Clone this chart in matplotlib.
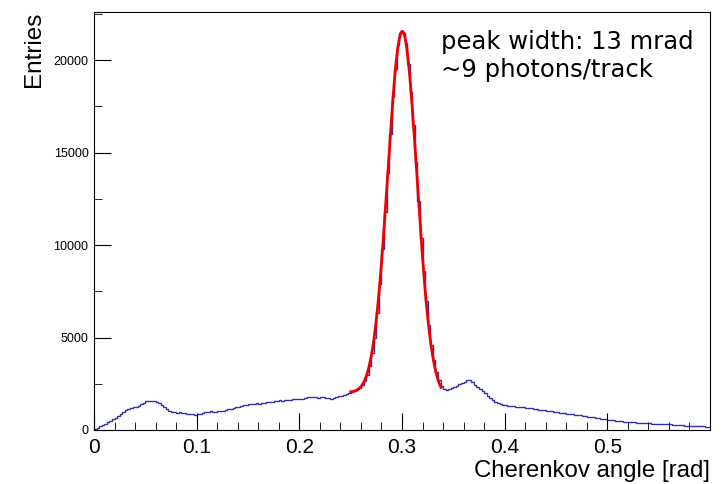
import numpy as np
import matplotlib
matplotlib.use("Agg")
import matplotlib.pyplot as plt
from matplotlib.ticker import MultipleLocator

# histogram: 240 bins of 0.0025 rad from 0 to 0.6
x_lo = 0.0
bin_width = 0.0025
counts = [
    40, 110, 190, 270, 340, 420, 500, 580, 660, 760,                 # 0.000
    880, 960, 1060, 1150, 1200, 1230, 1250, 1320, 1410, 1480,        # 0.025
    1580, 1590, 1570, 1580, 1540, 1470, 1360, 1240, 1120, 1030,      # 0.050
    980, 960, 940, 950, 910, 900, 880, 870, 850, 830,                # 0.075
    860, 880, 920, 950, 990, 1000, 960, 990, 1030, 1020,             # 0.100
    1050, 1080, 1110, 1140, 1200, 1220, 1260, 1290, 1330, 1370,      # 0.125
    1390, 1400, 1420, 1440, 1430, 1450, 1480, 1500, 1520, 1540,      # 0.150
    1570, 1580, 1600, 1590, 1620, 1630, 1640, 1650, 1660, 1650,      # 0.175
    1670, 1690, 1740, 1760, 1770, 1790, 1760, 1740, 1760, 1780,      # 0.200
    1740, 1720, 1700, 1730, 1780, 1820, 1860, 1890, 1920, 1980,      # 0.225
    2080, 2120, 2180, 2280, 2420, 2650, 2980, 3450, 4150, 5000,      # 0.250
    6300, 7900, 9800, 11800, 13900, 16000, 18000, 19500, 20800, 21450,  # 0.275
    21450, 20900, 19800, 18300, 16500, 14500, 12400, 10400, 8600, 7000,  # 0.300
    5650, 4600, 3800, 3150, 2700, 2400, 2220, 2180, 2230, 2290,      # 0.325
    2320, 2380, 2500, 2560, 2620, 2700, 2720, 2600, 2450, 2330,      # 0.350
    2230, 2130, 1990, 1850, 1720, 1610, 1530, 1460, 1400, 1360,      # 0.375
    1330, 1310, 1300, 1280, 1260, 1250, 1230, 1220, 1200, 1180,      # 0.400
    1170, 1150, 1120, 1100, 1080, 1070, 1040, 1020, 1000, 990,       # 0.425
    960, 940, 930, 900, 880, 870, 850, 830, 800, 790,                # 0.450
    760, 740, 720, 700, 690, 660, 640, 620, 590, 570,                # 0.475
    550, 540, 520, 510, 490, 470, 450, 440, 430, 420,                # 0.500
    410, 400, 390, 380, 370, 370, 360, 350, 340, 330,                # 0.525
    320, 320, 310, 300, 300, 290, 280, 270, 260, 250,                # 0.550
    240, 240, 230, 220, 210, 210, 200, 190, 180, 170,                # 0.575
]

# gaus + pol1 fit drawn over the peak
fit_range = (0.25, 0.338)
fit_amp = 19700
fit_mean = 0.3003
fit_sigma = 0.0142
fit_bg0 = 2900
fit_bg1 = -3480

edges = x_lo + bin_width * np.arange(len(counts) + 1)

fig = plt.figure(figsize=(7.22, 4.84), dpi=100)
ax = fig.add_axes([0.1302, 0.1116, 0.8532, 0.8636])

ax.stairs(counts, edges, baseline=None, color="#3030a8", linewidth=1.0)

xf = np.linspace(fit_range[0], fit_range[1], 300)
yf = fit_amp * np.exp(-0.5 * ((xf - fit_mean) / fit_sigma) ** 2) + fit_bg0 + fit_bg1 * xf
ax.plot(xf, yf, color="#ee0000", linewidth=2.0)

ax.set_xlim(0, 0.6)
ax.set_ylim(0, 22600)

ax.xaxis.set_minor_locator(MultipleLocator(0.02))
ax.yaxis.set_major_locator(MultipleLocator(5000))
ax.yaxis.set_minor_locator(MultipleLocator(2500))
ax.tick_params(axis="both", which="both", direction="in", top=False, right=False)
ax.tick_params(axis="x", which="major", length=12, labelsize=15, pad=6)
ax.tick_params(axis="x", which="minor", length=6)
ax.tick_params(axis="y", which="major", length=12, labelsize=9, pad=4)
ax.tick_params(axis="y", which="minor", length=6)
ax.set_xticks([0, 0.1, 0.2, 0.3, 0.4, 0.5])
ax.set_xticklabels(["0", "0.1", "0.2", "0.3", "0.4", "0.5"], family="Liberation Sans")
for lab in ax.get_yticklabels():
    lab.set_family("Liberation Sans")

ax.set_xlabel("Cherenkov angle [rad]", fontsize=17.3, family="Liberation Sans", loc="right", labelpad=2)
ax.set_ylabel("Entries", fontsize=17.5, family="Liberation Sans", loc="top", labelpad=6)

ax.text(0.563, 0.956, "peak width: 13 mrad\n~9 photons/track", transform=ax.transAxes,
        fontsize=17.5, va="top", ha="left", linespacing=1.2)

fig.savefig("out.png", dpi=100)
